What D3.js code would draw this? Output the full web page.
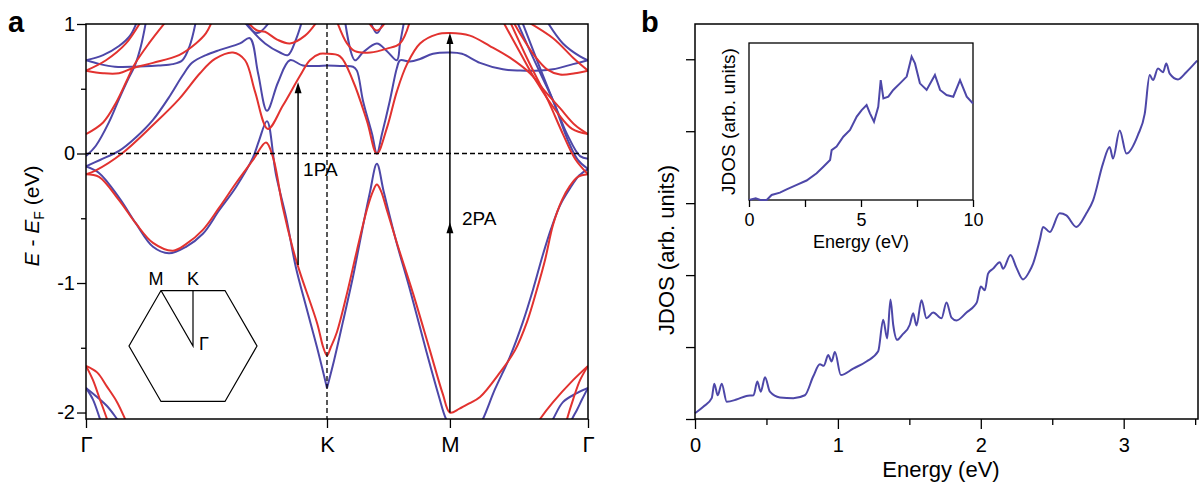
<!DOCTYPE html>
<html>
<head>
<meta charset="utf-8">
<script src="https://cdn.jsdelivr.net/npm/d3@7"></script>
<style>
  body { margin: 0; background: #fff; }
  svg text { font-family: "Liberation Sans", Arial, Helvetica, sans-serif; fill: #000; }
</style>
</head>
<body>
<svg width="1201" height="490"></svg>
<script>
// ---- panel a : band structure along Γ-K-M-Γ (k in units of |ΓK|) ----
const kTicks = [0, 1, 1.51, 2.083];
const kLabels = ["Γ", "K", "M", "Γ"];
const eTicks = [1, 0, -1, -2];
const eMinor = [0.5, -0.5, -1.5];

const blueBands = [
  [[0,0.72],[0.071,0.76],[0.137,0.83],[0.183,0.91],[0.212,1.02]],
  [[0,0.72],[0.058,0.69],[0.12,0.67],[0.2,0.67],[0.3,0.68],[0.36,0.69],[0.40,0.72],[0.43,0.83],[0.456,1.02]],
  [[0,-0.02],[0.041,0.06],[0.095,0.24],[0.137,0.42],[0.174,0.57],[0.203,0.68],[0.228,0.83],[0.249,1.02]],
  [[0,-0.1],[0.058,-0.05],[0.137,0.02],[0.21,0.13],[0.278,0.26],[0.35,0.45],[0.40,0.6],[0.44,0.7],[0.498,0.76],[0.556,0.8],[0.639,0.85],[0.68,0.89],[0.714,0.62],[0.751,0.33],[0.797,0.55],[0.846,0.72],[0.9,0.68],[1.0,0.68]],
  [[0.664,1.02],[0.689,0.95],[0.743,0.85],[0.805,0.78],[0.838,0.76],[0.871,0.88],[0.896,1.02]],
  [[0.656,1.02],[0.71,0.93],[0.763,1.02]],
  [[0,-0.1],[0.054,-0.15],[0.137,-0.34],[0.207,-0.54],[0.278,-0.72],[0.344,-0.77],[0.415,-0.72],[0.485,-0.62],[0.552,-0.44],[0.622,-0.26],[0.693,-0.03],[0.718,0.1],[0.751,0.25],[0.788,-0.16],[0.83,-0.49],[0.871,-0.88],[0.913,-1.18],[0.959,-1.5],[1.0,-1.81]],
  [[1.0,-1.81],[1.029,-1.6],[1.066,-1.3],[1.108,-0.95],[1.145,-0.6],[1.178,-0.3],[1.207,-0.08],[1.236,-0.3],[1.286,-0.67],[1.344,-1.05],[1.411,-1.52],[1.465,-1.88],[1.494,-2.05],[1.53,-2.16],[1.58,-2.2],[1.62,-2.14],[1.647,-2.05],[1.697,-1.82],[1.759,-1.57],[1.813,-1.3],[1.855,-1.05],[1.896,-0.78],[1.93,-0.58],[1.967,-0.4],[2.008,-0.27],[2.046,-0.17],[2.083,-0.12]],
  [[1.0,0.68],[1.054,0.675],[1.108,0.67],[1.124,0.64],[1.149,0.41],[1.187,0.15],[1.207,0.0],[1.228,0.15],[1.261,0.41],[1.29,0.66],[1.303,0.72],[1.344,0.71],[1.386,0.73],[1.44,0.77],[1.51,0.78],[1.56,0.77],[1.635,0.7],[1.73,0.65],[1.801,0.64],[1.884,0.64],[1.938,0.65],[2.021,0.69],[2.083,0.72]],
  [[1.075,1.02],[1.116,0.72],[1.149,0.78],[1.207,0.85],[1.249,0.79],[1.29,0.72],[1.303,0.85],[1.32,1.02]],
  [[1.18,1.02],[1.207,0.93],[1.235,1.02]],
  [[1.913,1.02],[1.979,0.85],[2.05,0.75],[2.083,0.72]],
  [[1.788,1.02],[1.855,0.74],[1.938,0.41],[1.996,0.15],[2.05,-0.02],[2.083,-0.04]],
  [[1.809,1.02],[1.884,0.66],[1.946,0.37],[2.0,0.1],[2.041,-0.05],[2.083,-0.12]],
  [[0,-1.81],[0.046,-1.88],[0.087,-1.95],[0.129,-2.05],[0.16,-2.13]],
  [[0,-1.81],[0.029,-1.9],[0.058,-2.05],[0.075,-2.14]],
  [[2.083,-1.81],[2.037,-1.85],[1.979,-1.92],[1.938,-2.05],[1.91,-2.14]],
  [[2.083,-1.81],[2.058,-1.9],[2.037,-1.98],[2.017,-2.05],[2.0,-2.12]]
];

const redBands = [
  [[0,0.64],[0.083,0.72],[0.166,0.85],[0.228,1.02]],
  [[0,0.64],[0.071,0.62],[0.137,0.62],[0.195,0.66],[0.278,0.70],[0.386,0.76],[0.456,0.85],[0.498,0.93],[0.523,1.02]],
  [[0,0.15],[0.071,0.24],[0.124,0.39],[0.166,0.55],[0.199,0.68],[0.261,0.85],[0.332,1.02]],
  [[0,-0.16],[0.041,-0.13],[0.149,0.0],[0.278,0.22],[0.386,0.42],[0.473,0.62],[0.535,0.73],[0.61,0.78],[0.66,0.72],[0.701,0.48],[0.755,0.19],[0.817,0.37],[0.888,0.6],[0.929,0.72],[0.971,0.77],[1.0,0.77]],
  [[0.668,1.02],[0.71,0.95],[0.743,0.94],[0.793,0.88],[0.846,0.85],[0.909,0.91],[0.959,1.02]],
  [[0,-0.16],[0.054,-0.18],[0.137,-0.36],[0.207,-0.54],[0.278,-0.69],[0.361,-0.75],[0.415,-0.7],[0.485,-0.59],[0.552,-0.42],[0.622,-0.23],[0.693,-0.05],[0.747,0.085],[0.776,-0.03],[0.817,-0.42],[0.859,-0.74],[0.888,-0.92],[0.959,-1.31],[0.985,-1.5],[1.0,-1.56],[1.015,-1.5],[1.041,-1.38],[1.083,-1.08],[1.124,-0.75],[1.166,-0.43],[1.191,-0.29],[1.207,-0.24],[1.224,-0.29],[1.249,-0.44],[1.295,-0.72],[1.357,-1.08],[1.427,-1.52],[1.481,-1.86],[1.51,-2.0],[1.55,-1.97],[1.59,-1.93],[1.635,-1.88],[1.718,-1.69],[1.78,-1.52],[1.83,-1.3],[1.871,-1.05],[1.905,-0.82],[1.938,-0.55],[1.975,-0.36],[2.008,-0.25],[2.041,-0.18],[2.083,-0.16]],
  [[1.0,0.77],[1.054,0.75],[1.108,0.56],[1.166,0.25],[1.207,0.0],[1.249,0.2],[1.29,0.48],[1.332,0.69],[1.386,0.85],[1.456,0.92],[1.51,0.93],[1.593,0.91],[1.676,0.83],[1.759,0.74],[1.842,0.62],[1.905,0.48],[1.967,0.35],[2.029,0.22],[2.083,0.15]],
  [[1.041,1.02],[1.083,0.85],[1.116,0.79],[1.18,0.78],[1.249,0.81],[1.303,0.85],[1.344,1.02]],
  [[1.17,1.02],[1.207,0.95],[1.245,1.02]],
  [[1.772,1.02],[1.813,0.89],[1.863,0.75],[1.913,0.65],[1.967,0.61],[2.029,0.62],[2.083,0.64]],
  [[1.83,1.02],[1.938,0.89],[2.021,0.74],[2.083,0.64]],
  [[1.759,1.02],[1.834,0.72],[1.917,0.41],[1.979,0.15],[2.029,-0.04],[2.083,-0.16]],
  [[1.73,1.02],[1.801,0.78],[1.871,0.55],[1.954,0.32],[2.017,0.19],[2.083,0.15]],
  [[0,-1.64],[0.046,-1.69],[0.087,-1.8],[0.129,-1.92],[0.162,-2.05],[0.18,-2.13]],
  [[0,-1.64],[0.029,-1.75],[0.058,-1.9],[0.087,-2.05],[0.1,-2.13]],
  [[2.083,-1.64],[2.021,-1.75],[1.938,-1.92],[1.884,-2.05],[1.86,-2.12]],
  [[2.083,-1.64],[2.05,-1.75],[2.021,-1.9],[1.996,-2.05],[1.985,-2.13]]
];

// transitions: k position, start and end energy
const arrow1PA = { k: 0.88, from: -0.86, to: 0.55 };
const arrow2PA = { k: 1.51, from: -2.0, to: 0.93, mid: -0.53 };

// ---- panel b : JDOS ----
const jdosE = [0,0.058,0.117,0.135,0.159,0.187,0.222,0.29,0.36,0.41,0.436,0.46,0.49,0.524,0.594,0.688,0.769,0.827,0.874,0.902,0.932,0.956,0.979,1.021,1.107,1.2,1.282,1.317,1.345,1.368,1.387,1.415,1.45,1.503,1.527,1.55,1.585,1.62,1.667,1.725,1.76,1.795,1.83,1.9,1.958,1.972,2.0,2.028,2.051,2.086,2.133,2.156,2.208,2.25,2.296,2.34,2.366,2.413,2.436,2.483,2.552,2.599,2.669,2.739,2.786,2.855,2.902,2.925,2.972,3.019,3.1,3.147,3.182,3.205,3.24,3.275,3.298,3.322,3.38,3.438,3.514];
const jdosV = [0.08,0.17,0.29,0.49,0.33,0.49,0.24,0.27,0.32,0.33,0.52,0.38,0.58,0.38,0.3,0.29,0.33,0.59,0.76,0.74,0.89,0.8,0.93,0.61,0.7,0.8,0.94,1.38,1.12,1.66,1.31,1.1,1.17,1.31,1.47,1.3,1.65,1.4,1.48,1.4,1.62,1.41,1.37,1.48,1.58,1.62,1.84,1.79,2.02,2.09,2.18,2.09,2.28,2.1,1.94,2.05,2.16,2.49,2.67,2.6,2.86,2.83,2.67,2.86,3.04,3.55,3.78,3.62,4.01,3.69,3.95,4.24,4.78,4.71,4.87,4.82,4.94,4.8,4.72,4.82,4.98];
const jdosTicks = [0, 1, 2, 3];
const jdosMinor = [0.5, 1.5, 2.5, 3.5];

const insetE = [0,0.3,0.5,0.79,1.01,1.38,1.68,2.13,2.57,3.02,3.32,3.62,3.69,3.91,4.21,4.51,4.81,5.03,5.25,5.4,5.58,5.77,5.88,6.0,6.22,6.44,6.74,7.04,7.26,7.41,7.63,7.93,8.3,8.53,8.82,9.12,9.42,9.72,10.0];
const insetV = [0,0.011,0,0,0.032,0.047,0.068,0.096,0.124,0.17,0.212,0.255,0.318,0.34,0.403,0.446,0.531,0.573,0.605,0.552,0.499,0.594,0.764,0.647,0.658,0.701,0.743,0.786,0.913,0.87,0.743,0.701,0.796,0.701,0.669,0.658,0.764,0.658,0.615];

const BLUE = "#4d47a8", RED = "#e2322f";
const svg = d3.select("svg");

// ================= panel a =================
const xa = d3.scaleLinear().domain([0, 2.083]).range([86, 588]);
const ya = d3.scaleLinear().domain([-2.05, 1]).range([419, 24]);

svg.append("clipPath").attr("id", "clipA").append("rect")
  .attr("x", xa(0)).attr("y", ya(1))
  .attr("width", xa(2.083) - xa(0)).attr("height", ya(-2.05) - ya(1));

const lineA = d3.line().x(d => xa(d[0])).y(d => ya(d[1])).curve(d3.curveCatmullRom.alpha(0.5));

const bands = svg.append("g").attr("clip-path", "url(#clipA)");
bands.selectAll("path.blue").data(blueBands).join("path")
  .attr("class", "blue").attr("d", lineA)
  .attr("fill", "none").attr("stroke", BLUE).attr("stroke-width", 2);
bands.selectAll("path.red").data(redBands).join("path")
  .attr("class", "red").attr("d", lineA)
  .attr("fill", "none").attr("stroke", RED).attr("stroke-width", 2);

// dashed guides at E_F and K
svg.append("line").attr("x1", xa(0)).attr("x2", xa(2.083)).attr("y1", ya(0)).attr("y2", ya(0))
  .attr("stroke", "#000").attr("stroke-width", 1.3).attr("stroke-dasharray", "5,3");
svg.append("line").attr("x1", xa(1)).attr("x2", xa(1)).attr("y1", ya(1)).attr("y2", ya(-2.05))
  .attr("stroke", "#000").attr("stroke-width", 1.3).attr("stroke-dasharray", "5,3");

// arrows
function arrowHead(x, y) {
  svg.append("path").attr("d", `M${x},${y} L${x - 3.5},${y + 11} L${x + 3.5},${y + 11} Z`).attr("fill", "#000");
}
[arrow1PA, arrow2PA].forEach(a => {
  svg.append("line").attr("x1", xa(a.k)).attr("x2", xa(a.k))
    .attr("y1", ya(a.from)).attr("y2", ya(a.to) + 4)
    .attr("stroke", "#000").attr("stroke-width", 1.5);
  arrowHead(xa(a.k), ya(a.to));
  if (a.mid !== undefined) arrowHead(xa(a.k), ya(a.mid));
});
svg.append("text").attr("x", xa(arrow1PA.k) + 5).attr("y", ya(-0.17)).attr("font-size", 19).text("1PA");
svg.append("text").attr("x", xa(arrow2PA.k) + 12).attr("y", ya(-0.55)).attr("font-size", 19).text("2PA");

// Brillouin zone sketch
const bz = { cx: 193, cy: 346, r: 64 };
const hex = d3.range(6).map(i => [bz.cx + bz.r * Math.cos(i * Math.PI / 3), bz.cy + bz.r * Math.sin(i * Math.PI / 3)]);
svg.append("path").attr("d", "M" + hex.join("L") + "Z").attr("fill", "none").attr("stroke", "#000").attr("stroke-width", 1.2);
const topY = bz.cy - bz.r * Math.sqrt(3) / 2;
svg.append("path").attr("d", `M${bz.cx - bz.r / 2},${topY} L${bz.cx},${bz.cy} L${bz.cx},${topY}`)
  .attr("fill", "none").attr("stroke", "#000").attr("stroke-width", 1.2);
svg.append("text").attr("x", bz.cx - bz.r / 2 - 5).attr("y", topY - 6).attr("text-anchor", "middle").attr("font-size", 18).text("M");
svg.append("text").attr("x", bz.cx).attr("y", topY - 6).attr("text-anchor", "middle").attr("font-size", 18).text("K");
svg.append("text").attr("x", bz.cx + 6).attr("y", bz.cy + 4).attr("font-size", 18).text("Γ");

// axes
function tidy(g, size) {
  g.select(".domain").remove();
  g.selectAll("line").attr("stroke", "#000").attr("stroke-width", 1.3);
  g.selectAll("text").attr("font-size", size);
}
svg.append("g").attr("transform", `translate(${xa(0)},0)`)
  .call(d3.axisLeft(ya).tickValues(eTicks).tickFormat(d => String(d)).tickSize(9).tickPadding(2))
  .call(g => tidy(g, 20));
svg.append("g").attr("transform", `translate(${xa(0)},0)`)
  .call(d3.axisLeft(ya).tickValues(eMinor).tickFormat("").tickSize(5))
  .call(g => tidy(g, 20));
svg.append("g").attr("transform", `translate(0,${ya(-2.05)})`)
  .call(d3.axisBottom(xa).tickValues(kTicks).tickFormat((d, i) => kLabels[i]).tickSize(9).tickPadding(8))
  .call(g => tidy(g, 22));
svg.append("rect").attr("x", xa(0)).attr("y", ya(1)).attr("width", xa(2.083) - xa(0)).attr("height", ya(-2.05) - ya(1))
  .attr("fill", "none").attr("stroke", "#000").attr("stroke-width", 1.5);

const yLabA = svg.append("text").attr("transform", "translate(39,216) rotate(-90)")
  .attr("text-anchor", "middle").attr("font-size", 21);
yLabA.append("tspan").attr("font-style", "italic").text("E");
yLabA.append("tspan").text(" - ");
yLabA.append("tspan").attr("font-style", "italic").text("E");
yLabA.append("tspan").attr("font-size", 14).attr("dy", 5).text("F");
yLabA.append("tspan").attr("dy", -5).text(" (eV)");

svg.append("text").attr("x", 8).attr("y", 32).attr("font-size", 29).attr("font-weight", "bold").text("a");

// ================= panel b =================
const xb = d3.scaleLinear().domain([0, 3.52]).range([695, 1198]);
const yb = d3.scaleLinear().domain([0, 5.49]).range([419, 24]);
const lineB = d3.line().x(d => xb(d[0])).y(d => yb(d[1])).curve(d3.curveMonotoneX);

svg.append("path").datum(jdosE.map((e, i) => [e, jdosV[i]])).attr("d", lineB)
  .attr("fill", "none").attr("stroke", BLUE).attr("stroke-width", 2);

svg.append("g").attr("transform", `translate(${xb(0)},0)`)
  .call(d3.axisLeft(yb).tickValues([0, 1, 2, 3, 4, 5]).tickFormat("").tickSize(9))
  .call(g => tidy(g, 19));
svg.append("g").attr("transform", `translate(0,${yb(0)})`)
  .call(d3.axisBottom(xb).tickValues(jdosTicks).tickFormat(d => String(d)).tickSize(10).tickPadding(9))
  .call(g => tidy(g, 20));
svg.append("g").attr("transform", `translate(0,${yb(0)})`)
  .call(d3.axisBottom(xb).tickValues(jdosMinor).tickFormat("").tickSize(6))
  .call(g => tidy(g, 19));
svg.append("rect").attr("x", xb(0)).attr("y", yb(5.49)).attr("width", xb(3.52) - xb(0)).attr("height", yb(0) - yb(5.49))
  .attr("fill", "none").attr("stroke", "#000").attr("stroke-width", 1.5);

svg.append("text").attr("x", 941).attr("y", 477).attr("text-anchor", "middle").attr("font-size", 22).text("Energy (eV)");
svg.append("text").attr("transform", "translate(674,250) rotate(-90)").attr("text-anchor", "middle")
  .attr("font-size", 22).text("JDOS (arb. units)");
svg.append("text").attr("x", 641).attr("y", 32).attr("font-size", 29).attr("font-weight", "bold").text("b");

// inset
const xi = d3.scaleLinear().domain([0, 10]).range([749, 973]);
const yi = d3.scaleLinear().domain([0, 1]).range([200, 43]);
svg.append("rect").attr("x", xi(0)).attr("y", yi(1)).attr("width", xi(10) - xi(0)).attr("height", yi(0) - yi(1))
  .attr("fill", "#fff").attr("stroke", "#000").attr("stroke-width", 1.3);
svg.append("path").datum(insetE.map((e, i) => [e, insetV[i]]))
  .attr("d", d3.line().x(d => xi(d[0])).y(d => yi(d[1])))
  .attr("fill", "none").attr("stroke", BLUE).attr("stroke-width", 2);
svg.append("g").attr("transform", `translate(0,${yi(0)})`)
  .call(d3.axisBottom(xi).tickValues([0, 2.5, 5, 7.5, 10]).tickFormat(d => d % 5 === 0 ? String(d) : "").tickSize(7).tickPadding(6))
  .call(g => tidy(g, 18));
svg.append("text").attr("x", xi(5)).attr("y", 248).attr("text-anchor", "middle").attr("font-size", 18).text("Energy (eV)");
svg.append("text").attr("transform", `translate(735,${(yi(0) + yi(1)) / 2}) rotate(-90)`).attr("text-anchor", "middle")
  .attr("font-size", 19).text("JDOS (arb. units)");
</script>
</body>
</html>
